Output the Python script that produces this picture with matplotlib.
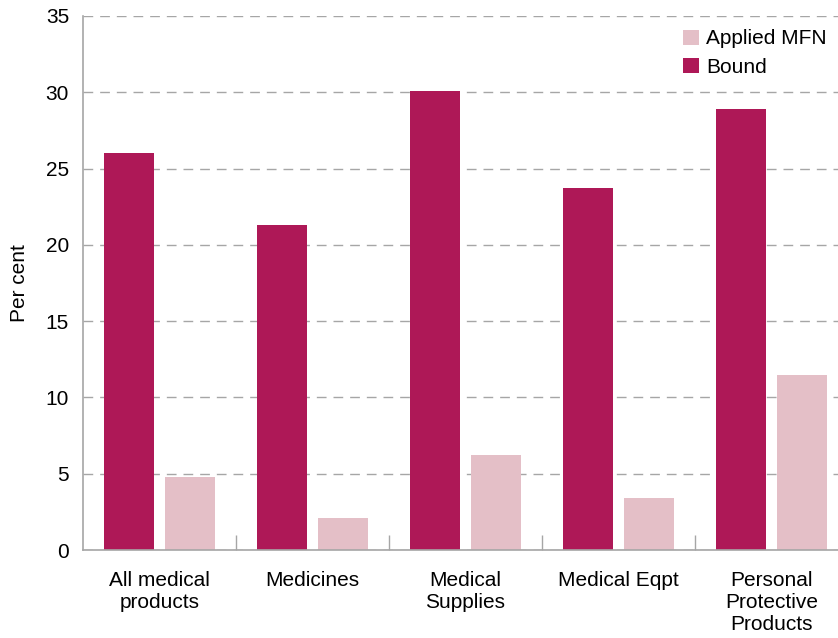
import numpy as np
import matplotlib
matplotlib.use("Agg")
import matplotlib.pyplot as plt

categories = ["All medical\nproducts", "Medicines", "Medical\nSupplies",
              "Medical Eqpt", "Personal\nProtective\nProducts"]
bound = [26.0, 21.3, 30.1, 23.7, 28.9]
applied_mfn = [4.8, 2.1, 6.2, 3.4, 11.5]

plt.rcParams["font.family"] = ["Liberation Sans", "DejaVu Sans"]
plt.rcParams["font.size"] = 15

grey = "#a6a6a6"
fig = plt.figure(figsize=(8.38, 6.38), dpi=100)
ax = fig.add_axes([83 / 838, 88 / 638, 765 / 838, 534 / 638])

x = np.arange(len(categories))
w = 0.327
ax.bar(x - 0.2, bound, w, color="#ae1857", label="Bound", zorder=3)
ax.bar(x + 0.2, applied_mfn, w, color="#e4bfc7", label="Applied MFN", zorder=3)

ax.set_xlim(-0.5, len(categories) - 0.5)
ax.set_ylim(0, 35)
ax.set_yticks(np.arange(0, 36, 5))
ax.set_xticks(x)
ax.set_xticklabels(categories, linespacing=1.22)
ax.set_xticks(np.arange(0.5, len(categories) - 0.5, 1), minor=True)
ax.tick_params(axis="x", which="major", length=0, pad=15)
ax.tick_params(axis="x", which="minor", direction="in", length=10.5,
               color=grey, width=1)
ax.tick_params(axis="y", length=0, pad=10)

ax.yaxis.grid(True, linestyle=(0, (7, 5)), color=grey, linewidth=1, zorder=0)
for s in ["top", "right"]:
    ax.spines[s].set_visible(False)
for s in ["left", "bottom"]:
    ax.spines[s].set_color(grey)
    ax.spines[s].set_linewidth(1.2)
    ax.spines[s].set_zorder(4)

ax.set_ylabel("Per cent")
ax.yaxis.set_label_coords(-0.07, 0.5)

h, l = ax.get_legend_handles_labels()
ax.legend(h[::-1], l[::-1], loc="upper right", bbox_to_anchor=(0.997, 1.01),
          frameon=False, handlelength=0.75, handleheight=0.75,
          handletextpad=0.35, labelspacing=0.45)

fig.savefig("out.png", dpi=100)
